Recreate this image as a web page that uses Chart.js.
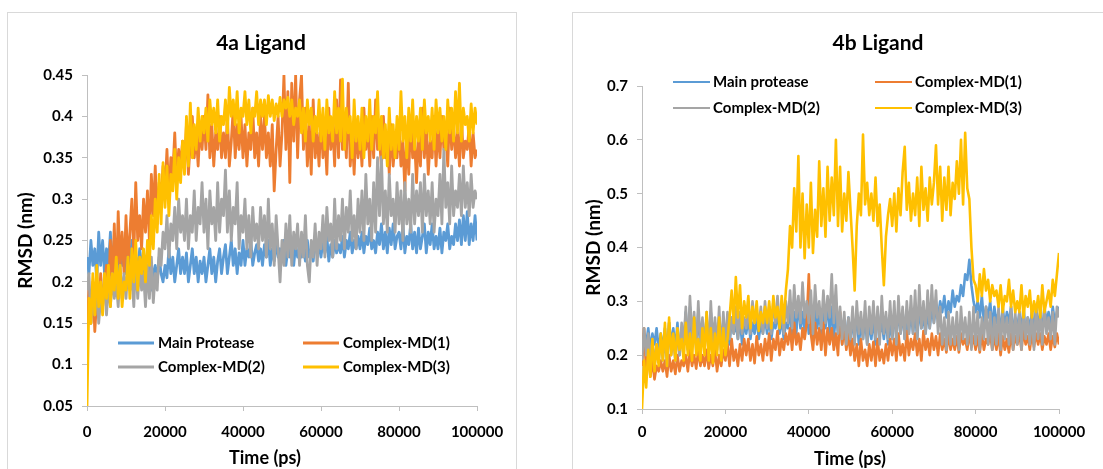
<!DOCTYPE html>
<html><head><meta charset="utf-8">
<script src="https://cdn.jsdelivr.net/npm/chart.js@4.4.1/dist/chart.umd.min.js"></script>
<style>
html,body{margin:0;padding:0;background:#fff;overflow:hidden;width:1103px;height:469px;}
.frame{position:absolute;border:1px solid #d9d9d9;box-sizing:border-box;}
canvas{position:absolute;}
</style></head><body>
<div class="frame" style="left:7px;top:12px;width:510px;height:480px"></div>
<div class="frame" style="left:572px;top:12px;width:620px;height:480px"></div>
<canvas id="c1" width="509" height="457" style="left:7px;top:12px"></canvas>
<canvas id="c2" width="620" height="457" style="left:572px;top:12px"></canvas>
<script>
// ---- data (time in ps) ----
const times = [
0,500,1000,1500,2000,2500,3000,3500,4000,4500,
5000,5500,6000,6500,7000,7500,8000,8500,9000,9500,
10000,10500,11000,11500,12000,12500,13000,13500,14000,14500,
15000,15500,16000,16500,17000,17500,18000,18500,19000,19500,
20000,20500,21000,21500,22000,22500,23000,23500,24000,24500,
25000,25500,26000,26500,27000,27500,28000,28500,29000,29500,
30000,30500,31000,31500,32000,32500,33000,33500,34000,34500,
35000,35500,36000,36500,37000,37500,38000,38500,39000,39500,
40000,40500,41000,41500,42000,42500,43000,43500,44000,44500,
45000,45500,46000,46500,47000,47500,48000,48500,49000,49500,
50000,50500,51000,51500,52000,52500,53000,53500,54000,54500,
55000,55500,56000,56500,57000,57500,58000,58500,59000,59500,
60000,60500,61000,61500,62000,62500,63000,63500,64000,64500,
65000,65500,66000,66500,67000,67500,68000,68500,69000,69500,
70000,70500,71000,71500,72000,72500,73000,73500,74000,74500,
75000,75500,76000,76500,77000,77500,78000,78500,79000,79500,
80000,80500,81000,81500,82000,82500,83000,83500,84000,84500,
85000,85500,86000,86500,87000,87500,88000,88500,89000,89500,
90000,90500,91000,91500,92000,92500,93000,93500,94000,94500,
95000,95500,96000,96500,97000,97500,98000,98500,99000,99500,
100000];

const seriesNames4a = ['Main Protease','Complex-MD(1)','Complex-MD(2)','Complex-MD(3)'];
const seriesNames4b = ['Main protease','Complex-MD(1)','Complex-MD(2)','Complex-MD(3)'];

// 4a Ligand RMSD (nm)
const a_main = [
0.23,0.21,0.25,0.22,0.24,0.20,0.26,0.22,0.25,0.21,
0.24,0.22,0.26,0.21,0.25,0.23,0.20,0.24,0.22,0.25,
0.21,0.24,0.22,0.25,0.20,0.23,0.21,0.24,0.22,0.20,
0.22,0.20,0.23,0.19,0.21,0.22,0.20,0.23,0.21,0.20,
0.22,0.205,0.24,0.21,0.23,0.20,0.22,0.24,0.21,0.23,
0.21,0.235,0.20,0.22,0.24,0.21,0.23,0.20,0.225,0.21,
0.23,0.20,0.22,0.24,0.21,0.23,0.20,0.225,0.24,0.21,
0.23,0.245,0.21,0.23,0.25,0.22,0.24,0.21,0.235,0.22,
0.25,0.22,0.24,0.23,0.25,0.22,0.235,0.245,0.225,0.24,
0.22,0.245,0.23,0.25,0.22,0.24,0.225,0.25,0.23,0.24,
0.225,0.25,0.22,0.24,0.23,0.25,0.22,0.245,0.23,0.24,
0.23,0.245,0.225,0.25,0.23,0.24,0.225,0.25,0.235,0.245,
0.23,0.25,0.235,0.255,0.225,0.245,0.23,0.25,0.235,0.245,
0.235,0.255,0.23,0.25,0.24,0.26,0.235,0.25,0.24,0.255,
0.24,0.26,0.235,0.255,0.245,0.265,0.24,0.25,0.235,0.26,
0.245,0.27,0.24,0.26,0.235,0.265,0.245,0.27,0.24,0.255,
0.26,0.24,0.27,0.235,0.255,0.245,0.27,0.24,0.26,0.235,
0.265,0.24,0.255,0.27,0.235,0.26,0.245,0.27,0.24,0.255,
0.24,0.265,0.235,0.26,0.25,0.27,0.24,0.255,0.245,0.27,
0.25,0.275,0.245,0.28,0.25,0.285,0.245,0.27,0.25,0.28,
0.25];
const a_md1 = [
0.14,0.19,0.15,0.20,0.14,0.18,0.16,0.21,0.17,0.20,
0.22,0.18,0.25,0.20,0.27,0.19,0.285,0.22,0.26,0.21,
0.28,0.22,0.26,0.30,0.23,0.32,0.25,0.28,0.24,0.30,
0.26,0.31,0.25,0.33,0.28,0.34,0.27,0.32,0.30,0.34,
0.31,0.36,0.30,0.35,0.33,0.38,0.32,0.36,0.34,0.37,
0.34,0.39,0.33,0.37,0.40,0.35,0.38,0.34,0.39,0.36,
0.40,0.36,0.426,0.35,0.39,0.34,0.38,0.36,0.40,0.35,
0.38,0.35,0.40,0.34,0.37,0.41,0.35,0.39,0.36,0.40,
0.35,0.39,0.34,0.38,0.36,0.41,0.35,0.38,0.34,0.40,
0.36,0.40,0.35,0.38,0.34,0.39,0.31,0.36,0.40,0.34,
0.38,0.45,0.36,0.43,0.32,0.44,0.37,0.45,0.35,0.42,
0.45,0.36,0.41,0.34,0.39,0.33,0.42,0.35,0.38,0.34,
0.40,0.35,0.38,0.33,0.41,0.36,0.39,0.34,0.42,0.35,
0.444,0.36,0.40,0.35,0.44,0.34,0.38,0.33,0.39,0.35,
0.38,0.34,0.41,0.36,0.39,0.34,0.40,0.35,0.42,0.36,
0.37,0.34,0.40,0.35,0.38,0.33,0.39,0.34,0.37,0.35,
0.39,0.34,0.37,0.31,0.38,0.33,0.40,0.35,0.37,0.32,
0.38,0.34,0.41,0.35,0.39,0.33,0.37,0.35,0.40,0.34,
0.39,0.35,0.40,0.36,0.38,0.34,0.41,0.36,0.39,0.35,
0.38,0.34,0.40,0.35,0.37,0.36,0.39,0.34,0.38,0.35,
0.36];
const a_md2 = [
0.19,0.21,0.15,0.19,0.16,0.20,0.15,0.18,0.17,0.21,
0.16,0.20,0.17,0.21,0.18,0.20,0.17,0.22,0.18,0.21,
0.18,0.22,0.19,0.21,0.17,0.23,0.18,0.22,0.19,0.21,
0.17,0.22,0.18,0.23,0.175,0.21,0.19,0.24,0.22,0.26,
0.24,0.28,0.23,0.27,0.25,0.29,0.24,0.30,0.26,0.28,
0.25,0.30,0.24,0.28,0.26,0.31,0.25,0.29,0.27,0.32,
0.26,0.30,0.24,0.31,0.27,0.29,0.25,0.32,0.26,0.30,
0.28,0.335,0.26,0.31,0.25,0.29,0.27,0.32,0.24,0.28,
0.26,0.30,0.24,0.28,0.23,0.29,0.25,0.27,0.24,0.29,
0.25,0.28,0.23,0.30,0.24,0.27,0.22,0.28,0.24,0.20,
0.25,0.22,0.27,0.23,0.28,0.22,0.26,0.24,0.27,0.22,
0.26,0.23,0.28,0.22,0.20,0.25,0.23,0.27,0.22,0.26,
0.24,0.28,0.23,0.29,0.25,0.27,0.23,0.30,0.24,0.28,
0.25,0.30,0.24,0.29,0.26,0.31,0.25,0.28,0.24,0.30,
0.26,0.31,0.25,0.33,0.27,0.30,0.25,0.32,0.26,0.35,
0.28,0.351,0.27,0.31,0.26,0.33,0.28,0.30,0.26,0.32,
0.27,0.31,0.25,0.32,0.27,0.30,0.26,0.33,0.27,0.31,
0.28,0.32,0.26,0.33,0.28,0.31,0.27,0.32,0.26,0.30,
0.28,0.33,0.27,0.36,0.29,0.32,0.27,0.34,0.28,0.31,
0.29,0.33,0.28,0.34,0.29,0.32,0.28,0.33,0.29,0.31,
0.30];
const a_md3 = [
0.05,0.18,0.15,0.21,0.16,0.22,0.17,0.20,0.16,0.21,
0.18,0.22,0.17,0.21,0.19,0.23,0.18,0.22,0.17,0.20,
0.19,0.23,0.18,0.24,0.20,0.25,0.19,0.23,0.21,0.24,
0.20,0.25,0.22,0.28,0.24,0.30,0.26,0.33,0.27,0.344,
0.29,0.34,0.28,0.33,0.31,0.36,0.30,0.35,0.32,0.37,
0.33,0.40,0.34,0.416,0.35,0.39,0.36,0.41,0.37,0.40,
0.38,0.41,0.37,0.42,0.39,0.41,0.38,0.42,0.37,0.40,
0.39,0.42,0.38,0.435,0.40,0.42,0.39,0.43,0.38,0.41,
0.40,0.43,0.39,0.42,0.38,0.41,0.40,0.43,0.39,0.42,
0.40,0.42,0.39,0.425,0.40,0.42,0.395,0.415,0.40,0.423,
0.40,0.42,0.41,0.423,0.40,0.42,0.39,0.41,0.40,0.42,
0.38,0.41,0.37,0.42,0.39,0.41,0.37,0.40,0.38,0.42,
0.37,0.41,0.36,0.42,0.38,0.40,0.37,0.43,0.38,0.41,
0.37,0.445,0.36,0.41,0.38,0.40,0.35,0.42,0.37,0.40,
0.36,0.41,0.35,0.40,0.37,0.42,0.36,0.40,0.38,0.43,
0.36,0.40,0.35,0.39,0.34,0.41,0.36,0.39,0.35,0.40,
0.36,0.43,0.37,0.40,0.35,0.41,0.37,0.42,0.36,0.40,
0.37,0.41,0.36,0.42,0.38,0.40,0.37,0.41,0.36,0.42,
0.38,0.41,0.37,0.40,0.36,0.42,0.38,0.41,0.37,0.43,
0.38,0.44,0.37,0.41,0.39,0.40,0.37,0.415,0.38,0.41,
0.39];

// 4b Ligand RMSD (nm)
const b_main = [
0.20,0.24,0.22,0.25,0.21,0.24,0.22,0.25,0.21,0.24,
0.21,0.25,0.20,0.26,0.22,0.25,0.21,0.26,0.20,0.24,
0.22,0.28,0.21,0.29,0.23,0.27,0.22,0.28,0.21,0.26,
0.22,0.27,0.21,0.28,0.23,0.26,0.22,0.27,0.21,0.26,
0.23,0.26,0.22,0.27,0.24,0.26,0.23,0.27,0.22,0.26,
0.24,0.27,0.23,0.26,0.24,0.27,0.23,0.26,0.24,0.27,
0.24,0.27,0.23,0.26,0.25,0.28,0.24,0.27,0.23,0.26,
0.25,0.29,0.23,0.28,0.24,0.30,0.25,0.28,0.24,0.29,
0.24,0.29,0.23,0.30,0.25,0.28,0.24,0.29,0.25,0.30,
0.24,0.29,0.23,0.28,0.24,0.27,0.22,0.26,0.23,0.27,
0.22,0.27,0.23,0.28,0.22,0.26,0.23,0.27,0.22,0.26,
0.23,0.27,0.22,0.28,0.24,0.26,0.23,0.27,0.22,0.26,
0.23,0.26,0.25,0.27,0.24,0.28,0.23,0.27,0.24,0.28,
0.24,0.28,0.23,0.29,0.25,0.27,0.24,0.28,0.25,0.29,
0.26,0.29,0.27,0.30,0.28,0.31,0.27,0.30,0.28,0.32,
0.29,0.31,0.30,0.33,0.31,0.35,0.34,0.377,0.33,0.30,
0.28,0.30,0.27,0.31,0.26,0.29,0.27,0.30,0.25,0.29,
0.26,0.28,0.24,0.29,0.25,0.28,0.26,0.29,0.24,0.27,
0.25,0.28,0.24,0.29,0.23,0.27,0.25,0.28,0.24,0.29,
0.25,0.28,0.24,0.29,0.26,0.28,0.25,0.29,0.26,0.28,
0.29];
const b_md1 = [
0.18,0.25,0.17,0.21,0.16,0.19,0.155,0.18,0.17,0.19,
0.17,0.19,0.16,0.20,0.17,0.19,0.165,0.20,0.17,0.19,
0.18,0.20,0.17,0.21,0.18,0.20,0.175,0.21,0.18,0.20,
0.18,0.21,0.175,0.20,0.18,0.21,0.17,0.20,0.18,0.21,
0.19,0.22,0.18,0.23,0.19,0.21,0.18,0.22,0.19,0.23,
0.20,0.23,0.19,0.22,0.185,0.235,0.20,0.22,0.19,0.23,
0.20,0.24,0.19,0.23,0.21,0.245,0.20,0.23,0.21,0.24,
0.22,0.25,0.21,0.26,0.22,0.24,0.21,0.25,0.23,0.26,
0.35,0.24,0.21,0.26,0.22,0.25,0.21,0.26,0.20,0.25,
0.22,0.25,0.21,0.24,0.20,0.28,0.22,0.25,0.21,0.24,
0.20,0.23,0.19,0.22,0.18,0.23,0.19,0.21,0.18,0.22,
0.19,0.225,0.18,0.23,0.19,0.21,0.185,0.22,0.19,0.23,
0.20,0.23,0.19,0.24,0.20,0.22,0.19,0.245,0.20,0.23,
0.21,0.24,0.20,0.23,0.19,0.245,0.21,0.23,0.20,0.24,
0.21,0.235,0.20,0.24,0.21,0.23,0.205,0.24,0.21,0.23,
0.21,0.235,0.205,0.24,0.22,0.23,0.21,0.24,0.215,0.235,
0.21,0.235,0.205,0.24,0.21,0.23,0.22,0.24,0.21,0.235,
0.21,0.24,0.20,0.235,0.21,0.23,0.205,0.24,0.21,0.235,
0.22,0.24,0.21,0.245,0.22,0.235,0.21,0.24,0.215,0.24,
0.22,0.24,0.21,0.235,0.22,0.24,0.21,0.235,0.215,0.24,
0.22];
const b_md2 = [
0.19,0.25,0.20,0.24,0.19,0.23,0.18,0.22,0.19,0.23,
0.19,0.24,0.18,0.26,0.20,0.23,0.19,0.25,0.20,0.26,
0.22,0.29,0.21,0.31,0.23,0.28,0.21,0.30,0.22,0.27,
0.21,0.28,0.20,0.30,0.22,0.27,0.21,0.29,0.20,0.28,
0.22,0.28,0.23,0.27,0.24,0.29,0.23,0.28,0.24,0.27,
0.25,0.29,0.24,0.30,0.26,0.28,0.25,0.29,0.24,0.30,
0.25,0.29,0.24,0.30,0.26,0.31,0.25,0.29,0.24,0.30,
0.26,0.32,0.25,0.33,0.27,0.31,0.26,0.335,0.27,0.30,
0.26,0.32,0.24,0.33,0.27,0.30,0.25,0.32,0.26,0.31,
0.27,0.35,0.26,0.33,0.24,0.29,0.23,0.28,0.22,0.27,
0.23,0.29,0.22,0.30,0.24,0.28,0.23,0.30,0.22,0.29,
0.24,0.30,0.23,0.29,0.22,0.31,0.24,0.28,0.23,0.30,
0.23,0.30,0.22,0.31,0.24,0.29,0.23,0.30,0.24,0.31,
0.24,0.32,0.23,0.33,0.25,0.30,0.24,0.32,0.25,0.33,
0.26,0.32,0.24,0.29,0.22,0.27,0.21,0.28,0.22,0.27,
0.22,0.28,0.21,0.29,0.23,0.27,0.22,0.28,0.21,0.29,
0.22,0.28,0.21,0.27,0.23,0.29,0.22,0.28,0.21,0.27,
0.22,0.29,0.21,0.28,0.23,0.27,0.22,0.29,0.21,0.28,
0.22,0.28,0.21,0.29,0.23,0.27,0.22,0.28,0.21,0.29,
0.23,0.28,0.22,0.29,0.24,0.27,0.23,0.28,0.22,0.29,
0.27];
const b_md3 = [
0.10,0.19,0.14,0.21,0.16,0.23,0.17,0.22,0.18,0.24,
0.19,0.26,0.18,0.27,0.20,0.24,0.19,0.25,0.21,0.23,
0.19,0.26,0.20,0.24,0.19,0.27,0.20,0.23,0.19,0.25,
0.20,0.28,0.19,0.25,0.185,0.24,0.20,0.27,0.19,0.25,
0.20,0.23,0.27,0.32,0.26,0.345,0.27,0.33,0.25,0.30,
0.27,0.31,0.25,0.29,0.26,0.30,0.245,0.28,0.26,0.29,
0.26,0.30,0.25,0.31,0.27,0.29,0.25,0.31,0.26,0.32,
0.36,0.44,0.40,0.51,0.43,0.57,0.40,0.50,0.38,0.48,
0.40,0.52,0.39,0.47,0.42,0.56,0.44,0.51,0.42,0.55,
0.45,0.53,0.46,0.60,0.44,0.55,0.43,0.50,0.45,0.54,
0.47,0.40,0.32,0.44,0.50,0.46,0.61,0.48,0.52,0.46,
0.50,0.45,0.53,0.44,0.48,0.40,0.33,0.42,0.46,0.49,
0.44,0.50,0.43,0.51,0.46,0.54,0.587,0.47,0.52,0.45,
0.50,0.46,0.53,0.44,0.55,0.47,0.51,0.45,0.53,0.48,
0.52,0.59,0.48,0.55,0.45,0.53,0.47,0.55,0.46,0.52,
0.49,0.56,0.50,0.60,0.48,0.613,0.51,0.49,0.40,0.34,
0.33,0.30,0.35,0.31,0.36,0.32,0.34,0.30,0.33,0.31,
0.32,0.29,0.33,0.28,0.31,0.30,0.34,0.29,0.32,0.28,
0.30,0.28,0.33,0.27,0.31,0.29,0.32,0.27,0.30,0.28,
0.31,0.27,0.33,0.28,0.30,0.32,0.29,0.34,0.31,0.35,
0.39];

// ticks
const xTicks = [0,20000,40000,60000,80000,100000];
const yTicks4a = [0.05,0.1,0.15,0.2,0.25,0.3,0.35,0.4,0.45];
const yTicks4b = [0.1,0.2,0.3,0.4,0.5,0.6,0.7];

const COLORS = ['#5B9BD5','#ED7D31','#A5A5A5','#FFC000'];
const FONT = 'Lato, "Open Sans", sans-serif';

const overlay = {
  id: 'overlay',
  afterDraw(chart, args, o) {
    const ctx = chart.ctx;
    ctx.save();
    ctx.fillStyle = '#000';
    ctx.textAlign = 'center';
    ctx.textBaseline = 'middle';
    ctx.font = 'bold ' + o.titleSize + 'px ' + FONT;
    ctx.fillText(o.title, o.titleX, o.titleY);
    ctx.font = 'bold ' + o.xTitleSize + 'px ' + FONT;
    ctx.fillText(o.xTitle, o.xTitleX, o.xTitleY);
    ctx.font = 'bold ' + o.legendSize + 'px ' + FONT;
    ctx.textAlign = 'left';
    chart.data.datasets.forEach((ds, i) => {
      const x = o.legendCols[i % 2], y = o.legendRows[Math.floor(i / 2)];
      ctx.strokeStyle = ds.borderColor;
      ctx.lineWidth = o.legendLineWidth;
      ctx.lineCap = 'butt';
      ctx.beginPath(); ctx.moveTo(x, y); ctx.lineTo(x + o.legendLineLen, y); ctx.stroke();
      ctx.fillText(ds.label, x + o.legendLineLen + o.legendGap, y);
    });
    ctx.restore();
  }
};

function makeChart(id, names, series, yTicks, c) {
  const orders = [4, 3, 2, 1];
  const datasets = series.map((vals, i) => ({
    label: names[i],
    data: times.map((t, k) => ({x: t, y: vals[k]})),
    borderColor: COLORS[i],
    backgroundColor: COLORS[i],
    borderWidth: c.lineWidth,
    pointRadius: 0,
    tension: 0,
    borderJoinStyle: 'round',
    order: orders[i]
  }));
  const tickFont = {family: FONT, size: 15, weight: 'bold'};
  return new Chart(document.getElementById(id), {
    type: 'line',
    data: {datasets},
    plugins: [overlay],
    options: {
      responsive: false,
      animation: false,
      devicePixelRatio: 1,
      layout: {padding: {left: 0, right: c.padRight, top: c.padTop, bottom: 0}},
      plugins: {
        legend: {display: false},
        title: {display: false},
        tooltip: {enabled: false},
        overlay: c.overlay
      },
      scales: {
        x: {
          type: 'linear', min: 0, max: 100000,
          afterBuildTicks: s => { s.ticks = xTicks.map(v => ({value: v})); },
          afterFit: s => { s.height = c.xHeight; },
          ticks: {color: '#000', font: tickFont, padding: c.xPad, maxRotation: 0, autoSkip: false,
                  callback: v => String(v)},
          grid: {drawOnChartArea: false, drawTicks: true, tickLength: 5, color: '#bfbfbf'},
          border: {color: '#bfbfbf'}
        },
        y: {
          min: yTicks[0], max: yTicks[yTicks.length - 1],
          afterBuildTicks: s => { s.ticks = yTicks.map(v => ({value: v})); },
          afterFit: s => { s.width = c.yWidth; },
          ticks: {color: '#000', font: tickFont, padding: 9, callback: v => String(v)},
          grid: {drawOnChartArea: false, drawTicks: true, tickLength: 5, color: '#bfbfbf'},
          border: {color: '#bfbfbf'},
          title: {display: true, text: 'RMSD (nm)', color: '#000',
                  font: {family: FONT, size: 19, weight: 'bold'}, padding: {top: c.yTitlePad, bottom: 0}}
        }
      }
    }
  });
}

function build() {
  Chart.defaults.font.family = FONT;
  makeChart('c1', seriesNames4a, [a_main, a_md1, a_md2, a_md3], yTicks4a, {
    lineWidth: 2.8, padRight: 39, padTop: 63, xHeight: 63, yWidth: 80, xPad: 12, yTitlePad: 7,
    overlay: {title: '4a Ligand', titleSize: 21, titleX: 254, titleY: 31,
              xTitle: 'Time (ps)', xTitleSize: 18, xTitleX: 258, xTitleY: 446,
              legendSize: 15, legendCols: [111, 296], legendRows: [331, 355],
              legendLineLen: 36, legendGap: 4, legendLineWidth: 3}
  });
  makeChart('c2', seriesNames4b, [b_main, b_md1, b_md2, b_md3], yTicks4b, {
    lineWidth: 2.6, padRight: 133, padTop: 74, xHeight: 60, yWidth: 70, xPad: 9, yTitlePad: 10,
    overlay: {title: '4b Ligand', titleSize: 21, titleX: 306, titleY: 31,
              xTitle: 'Time (ps)', xTitleSize: 18, xTitleX: 278, xTitleY: 447,
              legendSize: 15, legendCols: [101, 303], legendRows: [70, 96],
              legendLineLen: 37, legendGap: 3, legendLineWidth: 2}
  });
}
if (document.fonts && document.fonts.load) {
  document.fonts.load('bold 15px Lato').then(build, build);
} else { build(); }
</script>
</body></html>
